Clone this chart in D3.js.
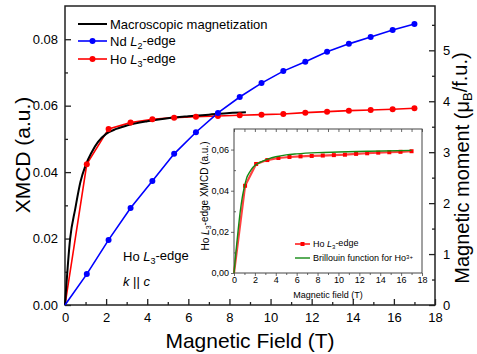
<!DOCTYPE html>
<html>
<head>
<meta charset="utf-8">
<script src="https://cdn.jsdelivr.net/npm/d3@7"></script>
<style>
body { margin: 0; background: #fff; }
svg { font-family: "Liberation Sans", Arial, sans-serif; }
.axis path { display: none; }
.axis line { stroke: #222; stroke-width: 1.3; }
.axis text { fill: #000; font-family: "Liberation Sans", Arial, sans-serif; }
</style>
</head>
<body>
<div id="chart"></div>
<script>
// field values of the XMCD points (T)
var fieldPts = [0, 1.06, 2.12, 3.19, 4.25, 5.31, 6.37, 7.44, 8.5, 9.56, 10.62, 11.69, 12.75, 13.81, 14.87, 15.94, 17.0];
// Nd L2-edge XMCD
var ndL2 = [0, 0.0093, 0.0196, 0.0292, 0.0373, 0.0455, 0.052, 0.0578, 0.0626, 0.0668, 0.0704, 0.0732, 0.0762, 0.0786, 0.0807, 0.0828, 0.0846];
// Ho L3-edge XMCD
var hoL3 = [0, 0.0424, 0.053, 0.0549, 0.0559, 0.0564, 0.0567, 0.0569, 0.0571, 0.0573, 0.0575, 0.0579, 0.0582, 0.0585, 0.0587, 0.0589, 0.0592];
// macroscopic magnetization (scaled to XMCD units)
var magField = [0, 0.25, 0.5, 0.75, 1, 1.3, 1.6, 2, 2.5, 3, 4, 5, 6, 7, 8, 8.8];
var magValue = [0, 0.02, 0.029, 0.037, 0.042, 0.046, 0.049, 0.0515, 0.053, 0.054, 0.0553, 0.0562, 0.0568, 0.0573, 0.0578, 0.058];
// Brillouin function for Ho3+ (inset)
var brilField = [0, 0.2, 0.4, 0.6, 0.8, 1, 1.2, 1.5, 1.8, 2.2, 2.7, 3.3, 4, 5, 6, 8, 10, 13, 17];
var brilValue = [0, 0.011, 0.021, 0.03, 0.037, 0.042, 0.046, 0.049, 0.0513, 0.053, 0.0543, 0.0555, 0.0565, 0.0574, 0.0579, 0.0585, 0.0588, 0.0592, 0.0596];

var xTicks = [0, 2, 4, 6, 8, 10, 12, 14, 16, 18];
var xMinor = [1, 3, 5, 7, 9, 11, 13, 15, 17];
var yTicks = [0, 0.02, 0.04, 0.06, 0.08];
var yMinor = [0.01, 0.03, 0.05, 0.07];
var rTicks = [0, 1, 2, 3, 4, 5];
var rMinor = [0.5, 1.5, 2.5, 3.5, 4.5, 5.5];
var inYTicks = [0, 0.02, 0.04, 0.06];
var inYMinor = [0.01, 0.03, 0.05];

var svg = d3.select("#chart").append("svg")
  .attr("width", 477).attr("height", 354);

// main scales
var x = d3.scaleLinear().domain([0, 18]).range([65, 435]);
var y = d3.scaleLinear().domain([0, 0.09]).range([305, 6]);
var yR = d3.scaleLinear().domain([0, 5.87]).range([305, 6]);

// ticks (inward)
svg.append("g").attr("class", "axis").attr("transform", "translate(0,305)")
  .call(d3.axisBottom(x).tickValues(xTicks).tickSize(-6).tickPadding(8))
  .style("font-size", "13px");
svg.append("g").attr("class", "axis").attr("transform", "translate(0,305)")
  .call(d3.axisBottom(x).tickValues(xMinor).tickSize(-3).tickFormat(""));
svg.append("g").attr("class", "axis").attr("transform", "translate(65,0)")
  .call(d3.axisLeft(y).tickValues(yTicks).tickSize(-6).tickPadding(7).tickFormat(d3.format(".2f")))
  .style("font-size", "13px");
svg.append("g").attr("class", "axis").attr("transform", "translate(65,0)")
  .call(d3.axisLeft(y).tickValues(yMinor).tickSize(-3).tickFormat(""));
svg.append("g").attr("class", "axis").attr("transform", "translate(435,0)")
  .call(d3.axisRight(yR).tickValues(rTicks).tickSize(-6).tickPadding(8).tickFormat(d3.format("d")))
  .style("font-size", "13px");
svg.append("g").attr("class", "axis").attr("transform", "translate(435,0)")
  .call(d3.axisRight(yR).tickValues(rMinor).tickSize(-3).tickFormat(""));

svg.append("rect")
  .attr("x", x(0)).attr("y", y(0.09))
  .attr("width", x(18) - x(0)).attr("height", y(0) - y(0.09))
  .attr("fill", "none").attr("stroke", "#222").attr("stroke-width", 1.5);

// axis titles
svg.append("text").attr("x", 250).attr("y", 348)
  .attr("text-anchor", "middle").style("font-size", "21px")
  .text("Magnetic Field (T)");
svg.append("text").attr("transform", "translate(30,155) rotate(-90)")
  .attr("text-anchor", "middle").style("font-size", "21px")
  .text("XMCD (a.u.)");
var rt = svg.append("text").attr("transform", "translate(469,168) rotate(-90)")
  .attr("text-anchor", "middle").style("font-size", "20px");
rt.append("tspan").text("Magnetic moment (\u03bc");
rt.append("tspan").attr("dy", "0.25em").style("font-size", "13px").text("B");
rt.append("tspan").attr("dy", "-0.25em").text("/f.u.)");

// main curves
var lineXY = d3.line().x(d => x(d[0])).y(d => y(d[1]));
var magPts = magField.map((f, i) => [f, magValue[i]]);
var ndPts = fieldPts.map((f, i) => [f, ndL2[i]]);
var hoPts = fieldPts.map((f, i) => [f, hoL3[i]]);

svg.append("path").datum(hoPts)
  .attr("d", lineXY).attr("fill", "none").attr("stroke", "#ff0000").attr("stroke-width", 1.6);
svg.append("path").datum(magPts)
  .attr("d", lineXY.curve(d3.curveMonotoneX)).attr("fill", "none").attr("stroke", "#000").attr("stroke-width", 2);
lineXY.curve(d3.curveLinear);
svg.append("path").datum(ndPts)
  .attr("d", lineXY).attr("fill", "none").attr("stroke", "#0000ff").attr("stroke-width", 1.6);

svg.selectAll("circle.ho").data(hoPts.slice(1)).enter().append("circle")
  .attr("class", "ho").attr("cx", d => x(d[0])).attr("cy", d => y(d[1])).attr("r", 3)
  .attr("fill", "#ff0000");
svg.selectAll("circle.nd").data(ndPts.slice(1)).enter().append("circle")
  .attr("class", "nd").attr("cx", d => x(d[0])).attr("cy", d => y(d[1])).attr("r", 3)
  .attr("fill", "#0000ff");

// legend
var legend = [
  {name: "Macroscopic magnetization", color: "#000", dot: false, y: 24},
  {name: "Nd", edge: "2", color: "#0000ff", dot: true, y: 41},
  {name: "Ho", edge: "3", color: "#ff0000", dot: true, y: 59}
];
legend.forEach(function(l) {
  svg.append("line").attr("x1", 78).attr("x2", 107).attr("y1", l.y).attr("y2", l.y)
    .attr("stroke", l.color).attr("stroke-width", l.dot ? 1.6 : 2);
  if (l.dot) svg.append("circle").attr("cx", 92.5).attr("cy", l.y).attr("r", 3).attr("fill", l.color);
  var t = svg.append("text").attr("x", 110).attr("y", l.y + 5).style("font-size", "13px");
  if (!l.edge) { t.text(l.name); return; }
  t.append("tspan").text(l.name + " ");
  t.append("tspan").style("font-style", "italic").text("L");
  t.append("tspan").attr("dy", "0.3em").style("font-size", "9px").text(l.edge);
  t.append("tspan").attr("dy", "-0.3em").text("-edge");
});

// annotation
var a1 = svg.append("text").attr("x", 123).attr("y", 261).style("font-size", "13px");
a1.append("tspan").text("Ho ");
a1.append("tspan").style("font-style", "italic").text("L");
a1.append("tspan").attr("dy", "0.3em").style("font-size", "9px").text("3");
a1.append("tspan").attr("dy", "-0.3em").text("-edge");
var a2 = svg.append("text").attr("x", 123).attr("y", 286).style("font-size", "13px");
a2.append("tspan").style("font-style", "italic").text("k");
a2.append("tspan").text(" || ");
a2.append("tspan").style("font-style", "italic").text("c");

// ---- inset ----
var xi = d3.scaleLinear().domain([0, 18]).range([234, 422]);
var yi = d3.scaleLinear().domain([0, 0.07]).range([273, 129]);
var commaFmt = d => d3.format(".2f")(d).replace(".", ",");

svg.append("rect")
  .attr("x", xi(0)).attr("y", yi(0.07))
  .attr("width", xi(18) - xi(0)).attr("height", yi(0) - yi(0.07))
  .attr("fill", "#fff").attr("stroke", "#444").attr("stroke-width", 1);

var inset = svg.append("g").style("font-size", "9px");
inset.append("g").attr("class", "axis").attr("transform", "translate(0,273)")
  .call(d3.axisBottom(xi).tickValues(xTicks).tickSize(3).tickPadding(1))
  .style("font-size", "9px");
inset.append("g").attr("class", "axis").attr("transform", "translate(0,273)")
  .call(d3.axisBottom(xi).tickValues(xMinor).tickSize(2).tickFormat(""));
inset.append("g").attr("class", "axis").attr("transform", "translate(0,129)")
  .call(d3.axisTop(xi).tickValues(xTicks.concat(xMinor)).tickSize(-3).tickFormat(""));
inset.append("g").attr("class", "axis").attr("transform", "translate(234,0)")
  .call(d3.axisLeft(yi).tickValues(inYTicks).tickSize(3).tickPadding(2).tickFormat(commaFmt))
  .style("font-size", "9px");
inset.append("g").attr("class", "axis").attr("transform", "translate(234,0)")
  .call(d3.axisLeft(yi).tickValues(inYMinor).tickSize(-2).tickFormat(""));
inset.selectAll(".axis line").style("stroke-width", 0.8).style("stroke", "#444");

var lineIn = d3.line().x(d => xi(d[0])).y(d => yi(d[1]));
inset.append("path").datum(hoPts)
  .attr("d", lineIn).attr("fill", "none").attr("stroke", "#ff2020").attr("stroke-width", 2.2)
  .attr("stroke-opacity", 0.85);
inset.selectAll("rect.hoSq").data(hoPts.slice(1)).enter().append("rect")
  .attr("class", "hoSq")
  .attr("x", d => xi(d[0]) - 2).attr("y", d => yi(d[1]) - 2)
  .attr("width", 4).attr("height", 4).attr("fill", "#ff0000");
var brilPts = brilField.map((f, i) => [f, brilValue[i]]);
inset.append("path").datum(brilPts)
  .attr("d", lineIn.curve(d3.curveMonotoneX)).attr("fill", "none")
  .attr("stroke", "#138a13").attr("stroke-width", 1.4);

inset.append("text").attr("x", 328).attr("y", 298).attr("text-anchor", "middle")
  .style("font-size", "9px").text("Magnetic field (T)");
var iy = inset.append("text").attr("transform", "translate(209,196) rotate(-90)")
  .attr("text-anchor", "middle").style("font-size", "10px");
iy.append("tspan").text("Ho ");
iy.append("tspan").style("font-style", "italic").text("L");
iy.append("tspan").attr("dy", "0.3em").style("font-size", "7px").text("3");
iy.append("tspan").attr("dy", "-0.3em").text("-edge XMCD (a.u.)");

// inset legend
inset.append("line").attr("x1", 295).attr("x2", 310).attr("y1", 244).attr("y2", 244)
  .attr("stroke", "#ff2020").attr("stroke-width", 1.6);
inset.append("rect").attr("x", 300.5).attr("y", 242).attr("width", 4).attr("height", 4).attr("fill", "#ff0000");
var il1 = inset.append("text").attr("x", 313).attr("y", 247).style("font-size", "9px");
il1.append("tspan").text("Ho ");
il1.append("tspan").style("font-style", "italic").text("L");
il1.append("tspan").attr("dy", "0.3em").style("font-size", "6px").text("3");
il1.append("tspan").attr("dy", "-0.3em").text("-edge");
inset.append("line").attr("x1", 295).attr("x2", 310).attr("y1", 258).attr("y2", 258)
  .attr("stroke", "#138a13").attr("stroke-width", 1.4);
var il2 = inset.append("text").attr("x", 313).attr("y", 261).style("font-size", "9px");
il2.append("tspan").text("Brillouin function for Ho");
il2.append("tspan").attr("dy", "-0.4em").style("font-size", "6px").text("3+");
</script>
</body>
</html>
